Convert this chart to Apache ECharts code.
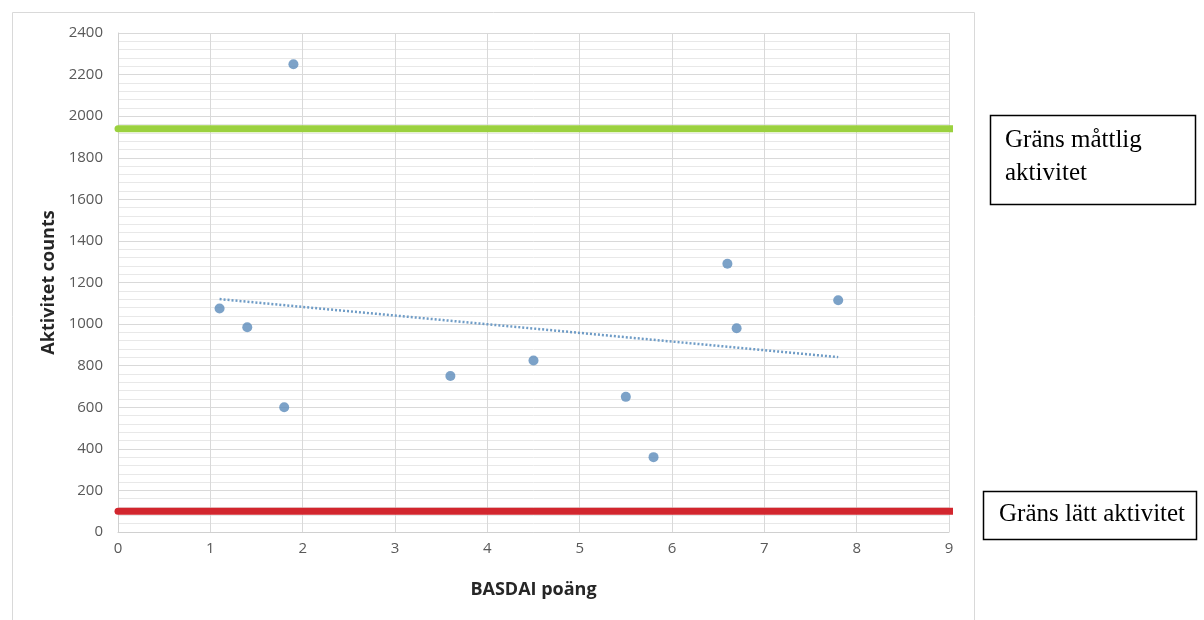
<!DOCTYPE html>
<html>
<head>
<meta charset="utf-8">
<script src="https://cdn.jsdelivr.net/npm/echarts@6/dist/echarts.min.js"></script>
<style>
html,body{margin:0;padding:0;background:#fff;}
#chart{width:1204px;height:620px;}
</style>
</head>
<body>
<div id="chart"></div>
<script>
// Data
var basdai = [1.1, 1.4, 1.8, 1.9, 3.6, 4.5, 5.5, 5.8, 6.6, 6.7, 7.8];
var counts = [1075, 985, 600, 2250, 750, 825, 650, 360, 1290, 980, 1115];
var moderateLimit = 1940;
var lightLimit = 100;
var limitLineX = [0, 9.12];
var xTicks = [0, 1, 2, 3, 4, 5, 6, 7, 8, 9];
var yTicks = [0, 200, 400, 600, 800, 1000, 1200, 1400, 1600, 1800, 2000, 2200, 2400];
var xTitle = 'BASDAI poäng';
var yTitle = 'Aktivitet counts';
var labelModerate = 'Gräns måttlig\naktivitet';
var labelLight = 'Gräns lätt aktivitet';

// Linear trendline (least squares) from the data
var n = basdai.length, mx = 0, my = 0;
for (var i = 0; i < n; i++) { mx += basdai[i]; my += counts[i]; }
mx /= n; my /= n;
var sxy = 0, sxx = 0;
for (var i = 0; i < n; i++) { sxy += (basdai[i]-mx)*(counts[i]-my); sxx += (basdai[i]-mx)*(basdai[i]-mx); }
var slope = sxy / sxx, icpt = my - slope * mx;
var xmin = Math.min.apply(null, basdai), xmax = Math.max.apply(null, basdai);
var trend = [[xmin, icpt + slope*xmin], [xmax, icpt + slope*xmax]];

var points = basdai.map(function(x, i){ return [x, counts[i]]; });

var chart = echarts.init(document.getElementById('chart'), null, {renderer:'canvas'});
chart.setOption({
  animation: false,
  backgroundColor: '#ffffff',
  grid: {left: 118, right: 255, top: 33, bottom: 88, containLabel: false},
  xAxis: {
    type: 'value', min: xTicks[0], max: xTicks[xTicks.length-1], interval: 1,
    name: xTitle, nameLocation: 'middle', nameGap: 49,
    nameTextStyle: {fontFamily: 'Open Sans', fontWeight: 'bold', fontSize: 18, color: '#262626'},
    axisLine: {show: true, lineStyle: {color: '#d0d0d0', width: 1}},
    axisTick: {show: false},
    axisLabel: {color: '#595959', fontFamily: 'Open Sans', fontSize: 15, margin: 9,
      formatter: function(v){ return String(v); }},
    splitLine: {show: true, lineStyle: {color: '#d9d9d9', width: 1}}
  },
  yAxis: {
    type: 'value', min: yTicks[0], max: yTicks[yTicks.length-1], interval: 200,
    name: yTitle, nameLocation: 'middle', nameGap: 53, nameRotate: 90,
    nameTextStyle: {fontFamily: 'Open Sans', fontWeight: 'bold', fontSize: 18, color: '#262626'},
    axisLine: {show: true, lineStyle: {color: '#d0d0d0', width: 1}},
    axisTick: {show: false},
    axisLabel: {color: '#595959', fontFamily: 'Open Sans', fontSize: 15, margin: 15,
      formatter: function(v){ return String(v); }},
    splitLine: {show: true, lineStyle: {color: '#d9d9d9', width: 1}},
    minorTick: {show: false, splitNumber: 5},
    minorSplitLine: {show: true, lineStyle: {color: '#e8e8e8', width: 1}}
  },
  series: [
    {
      type: 'line', data: limitLineX.map(function(x){return [x, moderateLimit];}),
      clip: false, symbol: 'none', silent: true,
      lineStyle: {color: '#9bd13f', width: 7, cap: 'round'}, z: 3
    },
    {
      type: 'line', data: limitLineX.map(function(x){return [x, lightLimit];}),
      clip: false, symbol: 'none', silent: true,
      lineStyle: {color: '#d2262e', width: 7, cap: 'round'}, z: 3
    },
    {
      type: 'line', data: trend, symbol: 'none', silent: true,
      lineStyle: {color: '#6f9cc6', width: 2.5, type: [2, 2]}, z: 4
    },
    {
      type: 'scatter', data: points, symbolSize: 10,
      itemStyle: {color: '#5b8bba'}, z: 5
    }
  ],
  graphic: [
    {type: 'rect', shape: {x: 12.5, y: 12.5, width: 962, height: 640}, style: {fill: 'none', stroke: '#d9d9d9', lineWidth: 1}, silent: true, z: -1},
    {type: 'rect', shape: {x: 990.5, y: 115.5, width: 205, height: 89}, style: {fill: '#fff', stroke: '#000', lineWidth: 1.5}, z: 10},
    {type: 'text', left: 1005, top: 124, style: {text: labelModerate, font: '25px "Liberation Serif"', fill: '#000', lineHeight: 33}, z: 11},
    {type: 'rect', shape: {x: 983.5, y: 491.5, width: 213, height: 48}, style: {fill: '#fff', stroke: '#000', lineWidth: 1.5}, z: 10},
    {type: 'text', left: 999, top: 502, style: {text: labelLight, font: '25px "Liberation Serif"', fill: '#000'}, z: 11}
  ]
});
</script>
</body>
</html>
